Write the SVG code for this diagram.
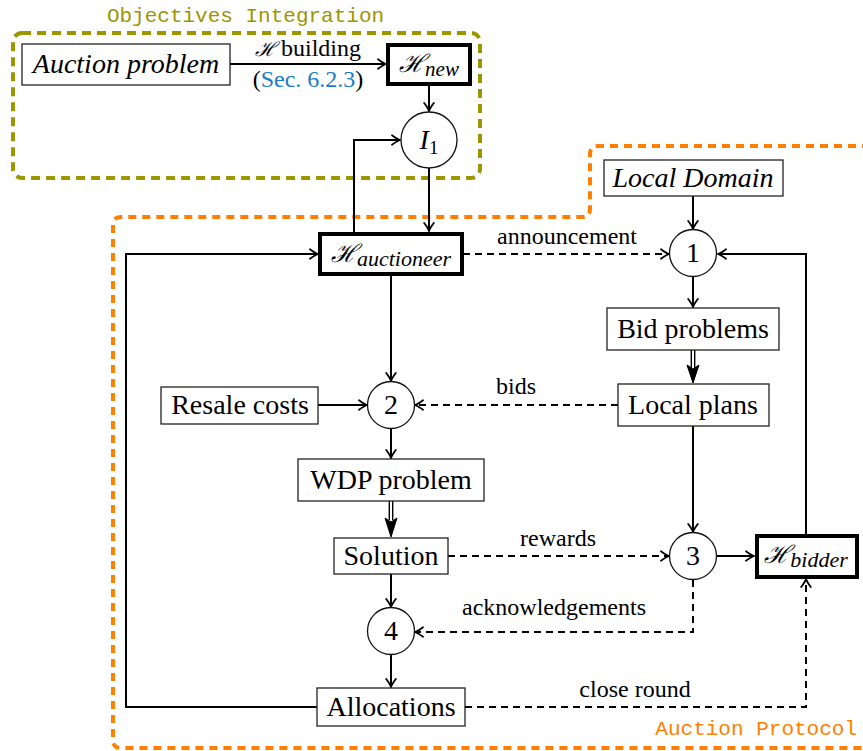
<svg xmlns="http://www.w3.org/2000/svg" width="863" height="751" viewBox="0 0 863 751">
<style>
  .box { fill: #fff; stroke: #222; stroke-width: 1.3; }
  .thick { fill: #fff; stroke: #000; stroke-width: 4; }
  .circ { fill: #fff; stroke: #111; stroke-width: 1.3; }
  .t { font-family: 'Liberation Serif', 'DejaVu Serif', serif; font-size: 28px; fill: #000; text-anchor: middle; }
  .it { font-style: italic; }
  .lbl { font-family: 'Liberation Serif', 'DejaVu Serif', serif; font-size: 24px; fill: #000; text-anchor: middle; }
  .cal { font-family: 'DejaVu Serif', serif; font-style: italic; }
  .mono { font-family: 'Liberation Mono', 'DejaVu Sans Mono', monospace; font-size: 21px; }
  .edge { fill: none; stroke: #000; stroke-width: 2; }
  .dash { stroke-dasharray: 7 5; }
  .sub { font-style: italic; }
</style>
<defs>
  <marker id="arr" markerUnits="userSpaceOnUse" viewBox="-10 -6 12 12" refX="0" refY="0" markerWidth="12" markerHeight="12" orient="auto">
    <path d="M-8,-4.8 Q-3,-1 0,0 Q-3,1 -8,4.8" fill="none" stroke="#000" stroke-width="1.8" stroke-linecap="round"/>
  </marker>
</defs>

<!-- group frames -->
<g id="objectives-integration">
  <rect x="13" y="33" width="467" height="145" rx="9" fill="none" stroke="#9c9600" stroke-width="4" stroke-dasharray="9 6"/>
  <text x="245.5" y="22" class="mono" fill="#9c9600" text-anchor="middle">Objectives Integration</text>
</g>
<g id="auction-protocol">
  <path d="M870,146 H598 Q590,146 590,154 V209 Q590,217 582,217 H121 Q113,217 113,225 V740 Q113,748 121,748 H870" fill="none" stroke="#ff8000" stroke-width="4" stroke-dasharray="8 6"/>
  <text x="857" y="735" class="mono" fill="#ff8000" text-anchor="end">Auction Protocol</text>
</g>

<!-- connectors -->
<g id="connectors">
  <path class="edge" d="M230,64 H386" marker-end="url(#arr)"/>
  <path class="edge" d="M429,84 V111" marker-end="url(#arr)"/>
  <path class="edge" d="M429,168 V231" marker-end="url(#arr)"/>
  <path class="edge" d="M354,233 V140 H400" marker-end="url(#arr)"/>
  <path class="edge dash" d="M463,254 H669" marker-end="url(#arr)"/>
  <path class="edge" d="M693,196 V229" marker-end="url(#arr)"/>
  <path class="edge" d="M693,277 V307" marker-end="url(#arr)"/>
  <path class="edge dash" d="M618,405 H415" marker-end="url(#arr)"/>
  <path class="edge" d="M318,405 H367" marker-end="url(#arr)"/>
  <path class="edge" d="M391,275 V381" marker-end="url(#arr)"/>
  <path class="edge" d="M391,429 V458" marker-end="url(#arr)"/>
  <path class="edge" d="M391,574 V607" marker-end="url(#arr)"/>
  <path class="edge" d="M391,655 V687" marker-end="url(#arr)"/>
  <path class="edge" d="M317,707 H126 V254 H318" marker-end="url(#arr)"/>
  <path class="edge" d="M693,426 V532" marker-end="url(#arr)"/>
  <path class="edge dash" d="M448,556 H669" marker-end="url(#arr)"/>
  <path class="edge" d="M717,556 H754" marker-end="url(#arr)"/>
  <path class="edge dash" d="M693,580 V632 H415" marker-end="url(#arr)"/>
  <path class="edge dash" d="M465,707 H806 V579" marker-end="url(#arr)"/>
  <path class="edge" d="M806,534 V254 H718" marker-end="url(#arr)"/>
  <!-- double arrows -->
  <path d="M691.3,350 V368 M694.7,350 V368" stroke="#000" stroke-width="1.4" fill="none"/>
  <path d="M687,365 L693,383 L699,365 L693,369 Z" fill="#000" stroke="#000" stroke-width="1"/>
  <path d="M389.3,501 V520 M392.7,501 V520" stroke="#000" stroke-width="1.4" fill="none"/>
  <path d="M385,518 L391,537 L397,518 L391,522 Z" fill="#000" stroke="#000" stroke-width="1"/>
  <!-- edge labels -->
  <text x="308" y="56" class="lbl"><tspan class="cal" font-size="20">ℋ</tspan><tspan dx="5">building</tspan></text>
  <text x="308" y="87" class="lbl">(<tspan fill="#1b7cc4">Sec. 6.2.3</tspan>)</text>
  <text x="567" y="244" class="lbl">announcement</text>
  <text x="516" y="394" class="lbl">bids</text>
  <text x="558" y="546" class="lbl">rewards</text>
  <text x="554" y="615" class="lbl">acknowledgements</text>
  <text x="635" y="697" class="lbl">close round</text>
</g>

<!-- nodes -->
<g id="auction-problem">
  <rect class="box" x="22" y="44" width="208" height="41"/>
  <text class="t it" x="126" y="73">Auction problem</text>
</g>
<g id="h-new">
  <rect class="thick" x="388" y="45" width="82" height="39"/>
  <text class="t" x="429" y="72"><tspan class="cal" font-size="25">ℋ</tspan><tspan class="sub" font-size="21" dy="4">new</tspan></text>
</g>
<g id="i1">
  <circle class="circ" cx="429" cy="140" r="28"/>
  <text class="t" x="429" y="149"><tspan class="it">I</tspan><tspan font-size="19" dy="5">1</tspan></text>
</g>
<g id="h-auctioneer">
  <rect class="thick" x="320" y="234" width="142" height="40"/>
  <text class="t" x="391" y="262"><tspan class="cal" font-size="25">ℋ</tspan><tspan class="sub" font-size="22" dy="4">auctioneer</tspan></text>
</g>
<g id="local-domain">
  <rect class="box" x="604" y="160" width="179" height="36"/>
  <text class="t it" x="693" y="187">Local Domain</text>
</g>
<g id="n1">
  <circle class="circ" cx="693" cy="253" r="23.5"/>
  <text class="t" x="693" y="262">1</text>
</g>
<g id="bid-problems">
  <rect class="box" x="607" y="308" width="172" height="42"/>
  <text class="t" x="693" y="338">Bid problems</text>
</g>
<g id="local-plans">
  <rect class="box" x="618" y="384" width="151" height="42"/>
  <text class="t" x="693" y="414">Local plans</text>
</g>
<g id="resale-costs">
  <rect class="box" x="161" y="387" width="157" height="37"/>
  <text class="t" x="240" y="414">Resale costs</text>
</g>
<g id="n2">
  <circle class="circ" cx="391" cy="405" r="23.5"/>
  <text class="t" x="391" y="414">2</text>
</g>
<g id="wdp-problem">
  <rect class="box" x="298" y="459" width="186" height="42"/>
  <text class="t" x="391" y="489">WDP problem</text>
</g>
<g id="solution">
  <rect class="box" x="334" y="538" width="114" height="36"/>
  <text class="t" x="391" y="565">Solution</text>
</g>
<g id="n3">
  <circle class="circ" cx="693" cy="556" r="23.5"/>
  <text class="t" x="693" y="565">3</text>
</g>
<g id="h-bidder">
  <rect class="thick" x="757" y="536" width="100" height="41"/>
  <text class="t" x="806" y="563"><tspan class="cal" font-size="25">ℋ</tspan><tspan class="sub" font-size="22" dy="4">bidder</tspan></text>
</g>
<g id="n4">
  <circle class="circ" cx="391" cy="631" r="23.5"/>
  <text class="t" x="391" y="640">4</text>
</g>
<g id="allocations">
  <rect class="box" x="317" y="688" width="148" height="38"/>
  <text class="t" x="391" y="716">Allocations</text>
</g>
</svg>
